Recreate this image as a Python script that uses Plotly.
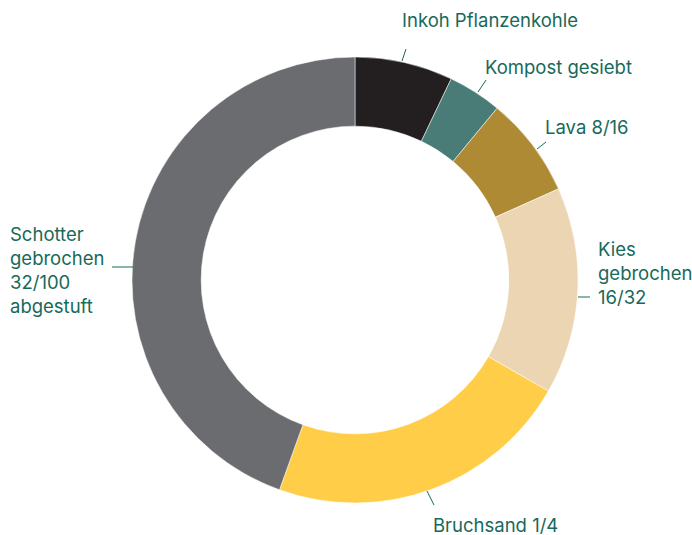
import plotly.graph_objects as go

# Data
labels = ["Inkoh Pflanzenkohle", "Kompost gesiebt", "Lava 8/16",
          "Kies gebrochen 16/32", "Bruchsand 1/4", "Schotter gebrochen 32/100 abgestuft"]
values = [7.1, 3.9, 7.3, 15.0, 22.2, 44.5]
colors = ["#231f20", "#4a7c77", "#ae8a35", "#ecd5b3", "#ffcd48", "#6b6c70"]
label_texts = ["Inkoh Pflanzenkohle", "Kompost gesiebt", "Lava 8/16",
               "Kies<br>gebrochen<br>16/32", "Bruchsand 1/4",
               "Schotter<br>gebrochen<br>32/100<br>abgestuft"]

W, H = 692, 535
CX, CY, R = 355, 280, 223
TEXT_COLOR = "#17695a"
FONT = "Inter, Noto Sans, sans-serif"

def px(x):
    return x / W

def py(y):
    return 1 - y / H

fig = go.Figure(go.Pie(
    labels=labels, values=values, hole=0.69, sort=False, direction="clockwise",
    rotation=0, textinfo="none", hoverinfo="label+percent",
    marker=dict(colors=colors, line=dict(color="white", width=0.5)),
    domain=dict(x=[px(CX - R), px(CX + R)], y=[py(CY + R), py(CY - R)]),
    showlegend=False,
))

# label placement (pixel positions of text anchor, leader line endpoints)
label_pos = [(400, 20), (483, 67), (543, 127), (596, 273), (431, 525), (8, 270)]
leaders = [((402, 61), (406, 49)), ((478, 92), (486, 80)), ((537, 149), (546, 142)),
           ((578, 297), (590, 297)), ((427, 491), (434, 505)), ((112, 267), (133, 267))]

annotations = []
for t, (x, y) in zip(label_texts, label_pos):
    annotations.append(dict(text=t, x=px(x), y=py(y), xref="paper", yref="paper",
                            xanchor="left", yanchor="middle", align="left",
                            showarrow=False,
                            font=dict(family=FONT, size=18.5, color=TEXT_COLOR)))
shapes = []
for (a, b) in leaders:
    shapes.append(dict(type="line", xref="paper", yref="paper",
                       x0=px(a[0]), y0=py(a[1]), x1=px(b[0]), y1=py(b[1]),
                       line=dict(color=TEXT_COLOR, width=1)))

fig.update_layout(width=W, height=H, margin=dict(l=0, r=0, t=0, b=0),
                  paper_bgcolor="white", plot_bgcolor="white",
                  annotations=annotations, shapes=shapes)
fig.write_html("out.html", config={"displayModeBar": False},
               post_script="document.body.style.margin='0';document.body.style.overflow='hidden';")
